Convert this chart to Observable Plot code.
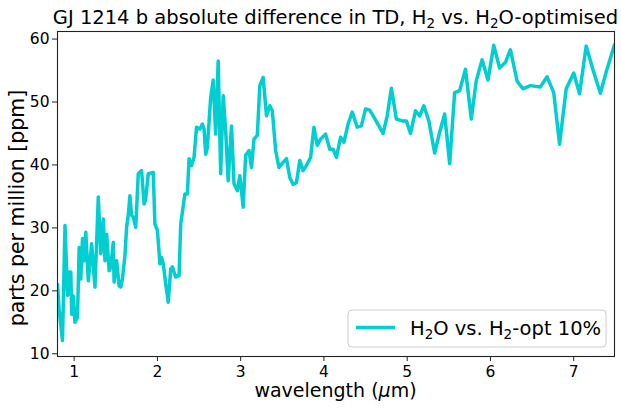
<!DOCTYPE html>
<html>
<head>
<meta charset="utf-8">
<script src="https://cdn.jsdelivr.net/npm/d3@7"></script>
<script src="https://cdn.jsdelivr.net/npm/@observablehq/plot@0.6"></script>
<style>
  html, body { margin: 0; padding: 0; background: white; }
  #chart svg { display: block; }
</style>
</head>
<body>
<div id="chart"></div>
<script>
const wavelength = [
  0.80, 0.82, 0.86, 0.89, 0.92, 0.94, 0.95, 0.96, 0.97, 0.99, 1.01, 1.04, 1.06, 1.08, 1.10, 1.12, 1.14, 1.17, 1.21, 1.25,
  1.29, 1.32, 1.35, 1.37, 1.39, 1.42, 1.44, 1.47, 1.48, 1.51, 1.54, 1.56, 1.58, 1.61, 1.63, 1.65, 1.67, 1.69, 1.71, 1.74,
  1.77, 1.81, 1.84, 1.86, 1.89, 1.95, 1.97, 2.00, 2.03, 2.05, 2.07, 2.10, 2.13, 2.16, 2.18, 2.22, 2.26, 2.28, 2.33, 2.36,
  2.38, 2.41, 2.44, 2.47, 2.51, 2.54, 2.56, 2.58, 2.60, 2.62, 2.64, 2.67, 2.70, 2.73, 2.76, 2.79, 2.82, 2.85, 2.89, 2.92,
  2.96, 2.99, 3.03, 3.06, 3.10, 3.13, 3.16, 3.20, 3.23, 3.27, 3.31, 3.35, 3.38, 3.42, 3.46, 3.51, 3.55, 3.59, 3.63, 3.67,
  3.71, 3.75, 3.79, 3.84, 3.88, 3.92, 3.96, 4.02, 4.07, 4.11, 4.15, 4.20, 4.24, 4.29, 4.34, 4.40, 4.45, 4.50, 4.55, 4.60,
  4.66, 4.71, 4.76, 4.81, 4.87, 4.94, 4.99, 5.04, 5.10, 5.15, 5.20, 5.26, 5.33, 5.39, 5.45, 5.51, 5.57, 5.63, 5.70, 5.77,
  5.83, 5.90, 5.97, 6.04, 6.11, 6.18, 6.24, 6.32, 6.39, 6.48, 6.60, 6.68, 6.76, 6.83, 6.91, 7.00, 7.07, 7.15, 7.23, 7.32,
  7.40, 7.49
];
const diffPpm = [
  21.0, 17.0, 12.1, 30.4, 19.3, 23.0, 19.5, 23.0, 16.3, 19.2, 15.0, 15.8, 26.9, 21.9, 28.3, 24.8, 29.3, 21.6, 27.5, 20.6,
  34.9, 25.9, 31.4, 24.8, 29.0, 23.2, 23.8, 27.7, 21.4, 24.8, 20.8, 20.6, 21.9, 25.6, 30.1, 32.0, 35.1, 32.0, 31.7, 30.1,
  38.6, 39.1, 33.8, 34.6, 38.6, 38.8, 30.6, 29.6, 24.3, 25.3, 24.3, 21.1, 18.2, 23.5, 23.8, 22.2, 22.4, 30.6, 35.4, 35.4,
  41.0, 39.9, 41.2, 46.0, 45.7, 46.5, 45.7, 41.7, 42.8, 46.8, 50.7, 53.5, 44.9, 56.5, 38.6, 51.0, 45.4, 37.5, 46.2, 37.0,
  35.9, 38.3, 33.3, 41.5, 42.3, 39.6, 44.1, 44.7, 52.6, 53.9, 47.8, 49.4, 48.6, 42.3, 39.6, 40.4, 41.0, 38.0, 36.9, 37.2,
  40.7, 39.1, 39.9, 41.2, 46.0, 43.1, 44.1, 44.9, 42.5, 42.5, 41.2, 44.4, 43.6, 46.5, 48.4, 46.0, 46.2, 48.9, 48.7, 47.6,
  46.2, 45.0, 47.8, 52.2, 47.3, 47.0, 47.0, 45.0, 48.6, 47.8, 49.4, 47.0, 41.9, 45.2, 48.1, 40.2, 51.5, 51.8, 55.2, 47.3,
  53.4, 56.7, 53.5, 59.0, 55.4, 56.3, 58.3, 53.3, 52.1, 52.6, 52.4, 54.0, 51.5, 43.3, 52.1, 54.6, 51.3, 58.9, 55.2, 51.4,
  55.2, 59.1
];
const xTicks = [1, 2, 3, 4, 5, 6, 7];
const yTicks = [10, 20, 30, 40, 50, 60];

const data = wavelength.map((w, i) => ({w, v: diffPpm[i]}));
const lineColor = "#00CED1";
const font = "'DejaVu Sans', sans-serif";

const chart = Plot.plot({
  width: 621,
  height: 412,
  marginLeft: 57,
  marginRight: 7,
  marginTop: 31,
  marginBottom: 56,
  style: {fontFamily: font, fontSize: "15px", color: "black", background: "white"},
  x: {domain: [0.8, 7.49], label: null},
  y: {domain: [9.57, 61.2], label: null},
  marks: [
    Plot.line(data, {x: "w", y: "v", stroke: lineColor, strokeWidth: 3.5, clip: true, strokeLinejoin: "round"}),
    Plot.frame({stroke: "#222", strokeWidth: 1.1}),
    Plot.axisX({ticks: xTicks, tickFormat: d => String(d), tickSize: 5, tickPadding: 4, fontSize: 15.5, label: null, stroke: "#222"}),
    Plot.axisY({ticks: yTicks, tickFormat: d => String(d), tickSize: 5, tickPadding: 3, fontSize: 15.5, label: null, stroke: "#222"})
  ]
});
document.getElementById("chart").appendChild(chart);

const svg = d3.select(chart);
const g = svg.append("g").attr("font-family", font).attr("fill", "black").attr("text-anchor", "start");

// Title
const title = g.append("text").attr("x", 335.5).attr("y", 24).attr("text-anchor", "middle").attr("font-size", 19.5);
title.append("tspan").text("GJ 1214 b absolute difference in TD, H");
title.append("tspan").attr("font-size", 13.5).attr("dy", 4).text("2");
title.append("tspan").attr("dy", -4).text(" vs. H");
title.append("tspan").attr("font-size", 13.5).attr("dy", 4).text("2");
title.append("tspan").attr("dy", -4).text("O-optimised");

// X label
const xl = g.append("text").attr("x", 335.5).attr("y", 397).attr("text-anchor", "middle").attr("font-size", 19);
xl.append("tspan").text("wavelength (");
xl.append("tspan").attr("font-style", "italic").text("μ");
xl.append("tspan").text("m)");

// Y label
g.append("text").attr("transform", "translate(24,208) rotate(-90)").attr("text-anchor", "middle")
  .attr("font-size", 20.5).text("parts per million [ppm]");

// Legend
const lg = g.append("g");
lg.append("rect").attr("x", 348).attr("y", 310).attr("width", 258).attr("height", 37).attr("rx", 4)
  .attr("fill", "white").attr("fill-opacity", 0.8).attr("stroke", "#cccccc");
lg.append("line").attr("x1", 356).attr("x2", 395).attr("y1", 327.5).attr("y2", 327.5)
  .attr("stroke", lineColor).attr("stroke-width", 3.5);
const lt = lg.append("text").attr("x", 410).attr("y", 335).attr("text-anchor", "start").attr("font-size", 19.5);
lt.append("tspan").text("H");
lt.append("tspan").attr("font-size", 13.5).attr("dy", 4).text("2");
lt.append("tspan").attr("dy", -4).text("O vs. H");
lt.append("tspan").attr("font-size", 13.5).attr("dy", 4).text("2");
lt.append("tspan").attr("dy", -4).text("-opt 10%");
</script>
</body>
</html>
